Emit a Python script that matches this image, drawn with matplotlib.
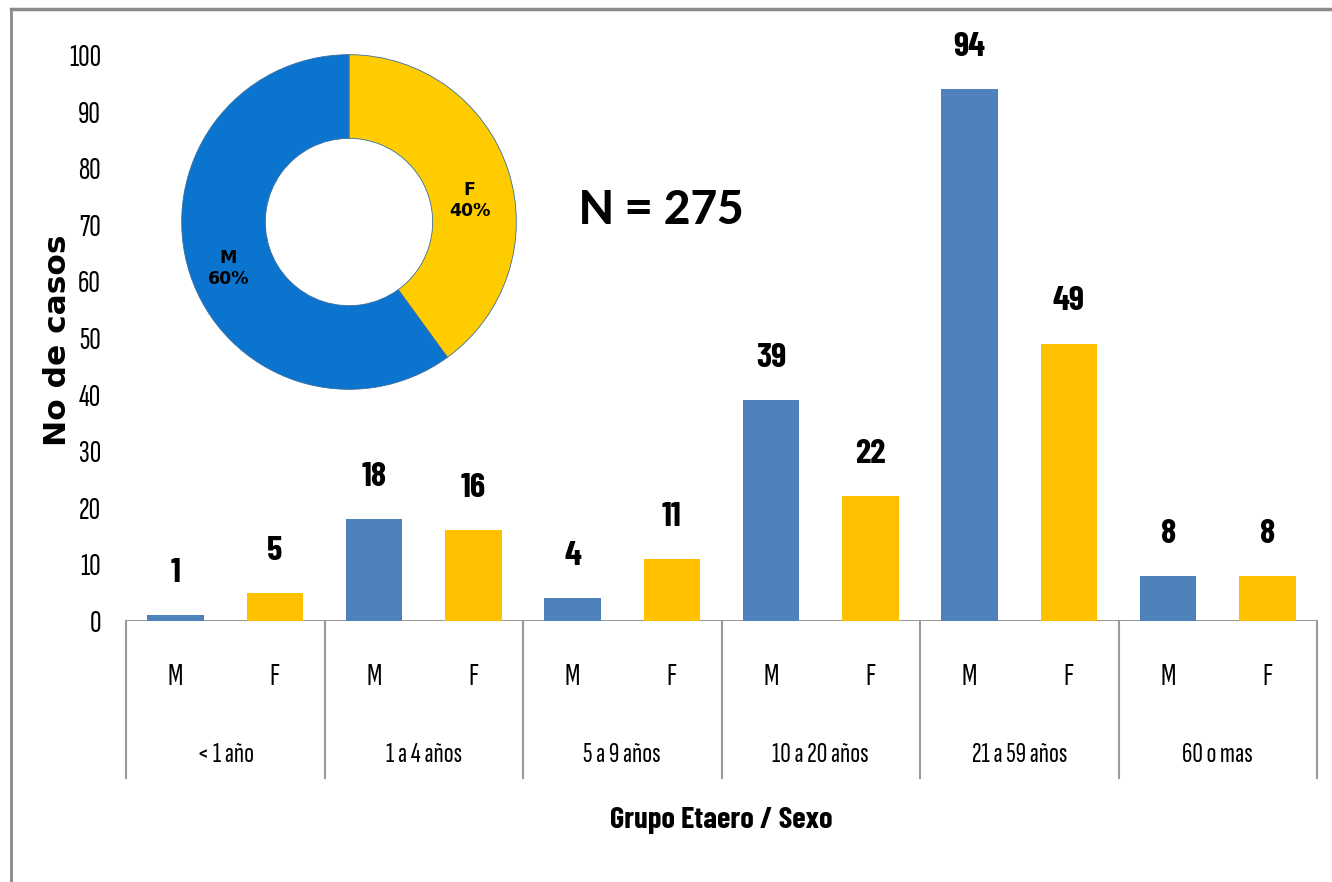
import matplotlib
matplotlib.use('Agg')
import matplotlib.pyplot as plt
from matplotlib.lines import Line2D
import numpy as np

## datos
grupos = ['< 1 año', '1 a 4 años', '5 a 9 años', '10 a 20 años', '21 a 59 años', '60 o mas']
sexos = ['M', 'F']
casos_m = [1, 18, 4, 39, 94, 8]
casos_f = [5, 16, 11, 22, 49, 8]
dona_labels = ['F\n40%', 'M\n60%']
dona_valores = [40, 60]
total_n = 275

azul = '#4F81BD'
amarillo = '#FFC000'
## fuentes angostas parecidas a las del original
narrow = ['Sofia Sans Extra Condensed', 'Pathway Gothic One', 'Roboto Condensed', 'DejaVu Sans']
narrow_b = ['Barlow Condensed', 'Fira Sans Extra Condensed', 'Roboto Condensed', 'DejaVu Sans']
calib = ['Carlito', 'DejaVu Sans']

fig = plt.figure(figsize=(13.32, 8.82), dpi=100)

## marco gris
fig.add_artist(Line2D([11/1332, 11/1332], [0, 1 - 9/882], transform=fig.transFigure, color='#8a8a8a', lw=2))
fig.add_artist(Line2D([11/1332, 1], [1 - 9/882, 1 - 9/882], transform=fig.transFigure, color='#8a8a8a', lw=2.5))

ax = fig.add_axes([126/1332, 261/882, 1191/1332, 566/882])
n = len(grupos)
x_m = np.arange(n) * 2 + 0.5
x_f = np.arange(n) * 2 + 1.5
ax.bar(x_m, casos_m, width=0.57, color=azul)
ax.bar(x_f, casos_f, width=0.57, color=amarillo)
ax.set_xlim(0, 2 * n)
ax.set_ylim(0, 100)

for xs, vals in [(x_m, casos_m), (x_f, casos_f)]:
    for x, v in zip(xs, vals):
        ax.text(x, v + 4.8, str(v), ha='center', va='bottom', fontsize=25,
                fontweight='bold', family=narrow_b, clip_on=False)

for s in ax.spines.values():
    s.set_visible(False)
ax.axhline(0, color='#8c8c8c', lw=2, zorder=0)
ax.set_xticks([])
ax.set_yticks(range(0, 101, 10))
ax.tick_params(axis='y', length=0, pad=18, labelsize=23)
for t in ax.get_yticklabels():
    t.set_family(narrow)

## tabla de categorias
tr = ax.get_xaxis_transform()
for i in range(n + 1):
    ax.plot([2 * i, 2 * i], [0, -0.277], transform=tr, color='#9a9a9a', lw=1.5, clip_on=False)
for i, g in enumerate(grupos):
    ax.text(x_m[i], -0.099, sexos[0], transform=tr, ha='center', va='center', fontsize=23, family=narrow)
    ax.text(x_f[i], -0.099, sexos[1], transform=tr, ha='center', va='center', fontsize=23, family=narrow)
    ax.text(2 * i + 1, -0.237, g, transform=tr, ha='center', va='center', fontsize=21, family=narrow)

ax.text(0.5, -0.352, 'Grupo Etaero / Sexo', transform=ax.transAxes, ha='center', va='center',
        fontsize=22, fontweight='bold', family=narrow_b)
fig.text(58/1332, 1 - 340/882, 'No de casos', rotation=90, ha='center', va='center',
         fontsize=22.5, fontweight='bold')
fig.text(661/1332, 1 - 210/882, 'N = ' + str(total_n), ha='center', va='center',
         fontsize=38, fontweight='bold', family=calib)

## dona
ax2 = fig.add_axes([180/1332, (882 - 222 - 169)/882, 338/1332, 338/882])
ax2.pie(dona_valores, colors=['#FFCC00', '#0B74CF'], startangle=90,
        counterclock=False, wedgeprops=dict(width=0.5, edgecolor='#3a6e9e', linewidth=0.6))
ax2.set_xlim(-1.01, 1.01)
ax2.set_ylim(-1.01, 1.01)
ax2.set_aspect('equal')
ax2.text(0.72, 0.13, dona_labels[0], ha='center', va='center', fontsize=12.5, fontweight='bold')
ax2.text(-0.72, -0.28, dona_labels[1], ha='center', va='center', fontsize=12.5, fontweight='bold')

fig.savefig('out.png', dpi=100)
